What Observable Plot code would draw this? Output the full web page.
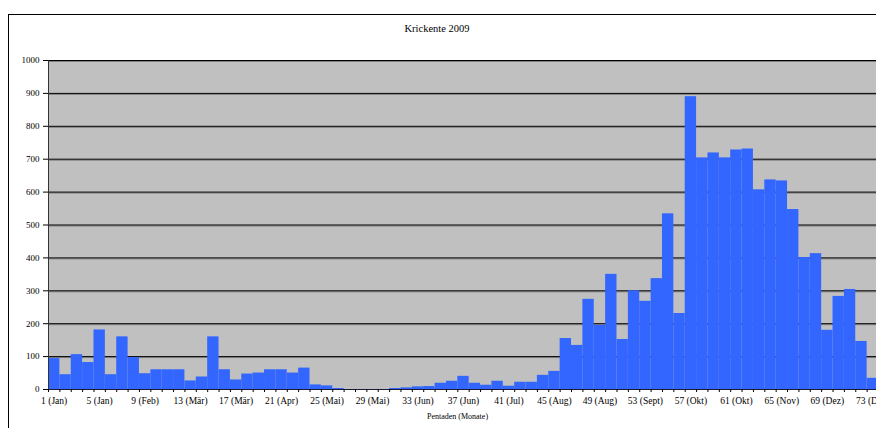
<!DOCTYPE html>
<html><head><meta charset="utf-8">
<script src="https://cdn.jsdelivr.net/npm/d3@7"></script>
<script src="https://cdn.jsdelivr.net/npm/@observablehq/plot@0.6"></script>
<style>
html,body{margin:0;padding:0;background:#fff;overflow:hidden;}
#wrap{position:relative;width:876px;height:428px;overflow:hidden;font-family:"Liberation Serif","Times New Roman",serif;color:#000;}
#box{position:absolute;left:8px;top:14px;width:1000px;height:1000px;border-left:1px solid #000;border-top:1px solid #000;}
#title{position:absolute;left:0;width:874px;top:22px;text-align:center;font-size:10.5px;line-height:13px;}
#chart{position:absolute;left:0;top:0;}
</style></head><body>
<div id="wrap"><div id="box"></div><div id="title">Krickente 2009</div><div id="chart"></div></div>
<script>
const pentads = [1,2,3,4,5,6,7,8,9,10,11,12,13,14,15,16,17,18,19,20,21,22,23,24,25,26,27,28,29,30,31,32,33,34,35,36,37,38,39,40,41,42,43,44,45,46,47,48,49,50,51,52,53,54,55,56,57,58,59,60,61,62,63,64,65,66,67,68,69,70,71,72,73];
const counts = [94,45,106,82,181,45,160,97,48,60,60,60,26,38,160,60,29,47,50,60,60,50,65,14,11,3,0,0,0,0,3,5,8,9,19,25,40,19,13,25,10,22,22,43,55,155,134,274,195,350,152,300,268,337,534,231,890,704,719,704,728,731,607,637,634,547,401,413,180,283,304,146,34];
const tickPentads = [1,5,9,13,17,21,25,29,33,37,41,45,49,53,57,61,65,69,73];
const tickLabels = ["1 (Jan)","5 (Jan)","9 (Feb)","13 (Mär)","17 (Mär)","21 (Apr)","25 (Mai)","29 (Mai)","33 (Jun)","37 (Jun)","41 (Jul)","45 (Aug)","49 (Aug)","53 (Sept)","57 (Okt)","61 (Okt)","65 (Nov)","69 (Dez)","73 (Dez)"];
const yTicks = [0,100,200,300,400,500,600,700,800,900,1000];
const xAxisTitle = "Pentaden (Monate)";

const data = pentads.map((p, i) => ({p, next: p + 1, v: counts[i]}));
const boundaries = pentads.concat([pentads[pentads.length - 1] + 1]);
const labelMap = new Map(tickPentads.map((p, i) => [p + 0.5, tickLabels[i]]));

const chart = Plot.plot({
  width: 876, height: 428,
  marginTop: 60, marginBottom: 39, marginLeft: 48, marginRight: -2,
  style: {fontFamily: "'Liberation Serif','Times New Roman',serif", background: "transparent", color: "#000"},
  x: {type: "linear", domain: [1, 74], axis: null},
  y: {domain: [0, 1000], axis: null},
  marks: [
    Plot.frame({fill: "#c0c0c0", stroke: "none"}),
    Plot.ruleY(yTicks.slice(1), {stroke: "#808080", dy: 1}),
    Plot.ruleY(yTicks.slice(1), {stroke: "#000"}),
    Plot.rectY(data, {x1: "p", x2: "next", y: "v", fill: "#3366ff", inset: 0}),
    Plot.ruleY([0], {stroke: "#1a1a3a"}),
    Plot.ruleX([1], {stroke: "#333"}),
    Plot.axisY({ticks: yTicks, tickSize: 5, tickPadding: 4, fontSize: 9, tickFormat: d => String(d), label: null}),
    Plot.axisX({ticks: boundaries, tickSize: 3, tickFormat: () => "", label: null}),
    Plot.axisX({ticks: tickPentads.map(p => p + 0.5), tickSize: 0, tickPadding: 8, fontSize: 9.5, tickFormat: d => labelMap.get(d), label: null}),
    Plot.text([xAxisTitle], {frameAnchor: "bottom", dy: 29, dx: -6, fontSize: 8})
  ]
});
document.getElementById("chart").appendChild(chart);
</script>
</body></html>
